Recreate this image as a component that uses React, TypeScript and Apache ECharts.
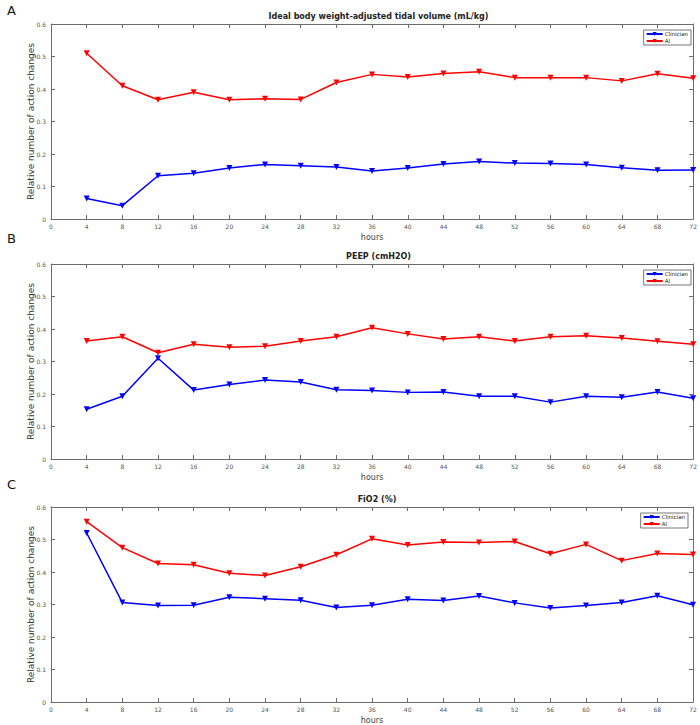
import React, { useEffect, useRef } from "react";
import * as echarts from "echarts";

const hours = [4, 8, 12, 16, 20, 24, 28, 32, 36, 40, 44, 48, 52, 56, 60, 64, 68, 72];
const seriesNames = ["Clinician", "AI"];
const panelLetters = ["A", "B", "C"];
const panelTitles = [
  "Ideal body weight-adjusted tidal volume (mL/kg)",
  "PEEP (cmH2O)",
  "FiO2 (%)",
];

const tidalClinician = [0.063, 0.041, 0.133, 0.141, 0.157, 0.168, 0.164, 0.16, 0.148, 0.157, 0.169, 0.177, 0.172, 0.171, 0.168, 0.158, 0.15, 0.151];
const tidalAI = [0.51, 0.41, 0.367, 0.39, 0.367, 0.37, 0.368, 0.42, 0.445, 0.437, 0.448, 0.453, 0.435, 0.435, 0.435, 0.425, 0.447, 0.433];

const peepClinician = [0.153, 0.193, 0.31, 0.212, 0.229, 0.243, 0.237, 0.213, 0.211, 0.205, 0.206, 0.193, 0.193, 0.175, 0.193, 0.19, 0.206, 0.187];
const peepAI = [0.363, 0.376, 0.327, 0.353, 0.344, 0.347, 0.363, 0.376, 0.404, 0.385, 0.369, 0.376, 0.363, 0.376, 0.379, 0.372, 0.362, 0.353];

const fio2Clinician = [0.52, 0.306, 0.297, 0.298, 0.322, 0.318, 0.313, 0.291, 0.298, 0.316, 0.312, 0.326, 0.305, 0.289, 0.297, 0.306, 0.327, 0.299];
const fio2AI = [0.555, 0.475, 0.426, 0.422, 0.396, 0.389, 0.416, 0.453, 0.502, 0.483, 0.492, 0.491, 0.494, 0.456, 0.485, 0.435, 0.457, 0.454];

const panelData = [
  [tidalClinician, tidalAI],
  [peepClinician, peepAI],
  [fio2Clinician, fio2AI],
];

const colors = ["#0000ff", "#ff0000"];
const layout = [
  { top: 24, height: 195, left: 51, right: 4, letterTop: 4 },
  { top: 264, height: 195, left: 51, right: 4, letterTop: 232 },
  { top: 507, height: 197, left: 51, right: 7, letterTop: 478 },
];

const FONT = "'DejaVu Sans', sans-serif";
const AXIS_COLOR = "#6b6b6b";

export default function App() {
  const ref = useRef<HTMLDivElement>(null);
  useEffect(() => {
    if (!ref.current) return;
    const chart = echarts.init(ref.current, undefined, { renderer: "svg" });
    const grid: any[] = [];
    const xAxis: any[] = [];
    const yAxis: any[] = [];
    const series: any[] = [];
    const title: any[] = [];
    const legend: any[] = [];
    const graphic: any[] = [];

    layout.forEach((g, i) => {
      grid.push({ left: g.left, right: g.right, top: g.top, height: g.height, show: false });
      const axisLine = { show: true, onZero: false, lineStyle: { color: AXIS_COLOR, width: 1 } };
      const tick = { show: true, inside: true, length: 4, lineStyle: { color: AXIS_COLOR } };
      xAxis.push({
        type: "value", gridIndex: i, min: 0, max: 72, interval: 4, position: "bottom",
        axisLine, axisTick: tick, splitLine: { show: false },
        axisLabel: { fontSize: 6, color: "#555", fontFamily: FONT, margin: 4 },
        name: "hours", nameLocation: "middle", nameGap: 14, nameMoveOverlap: false,
        nameTextStyle: { fontSize: 8, color: "#444", fontFamily: FONT },
      });
      xAxis.push({
        type: "value", gridIndex: i, min: 0, max: 72, interval: 4, position: "top",
        axisLine, axisTick: tick, splitLine: { show: false }, axisLabel: { show: false },
      });
      yAxis.push({
        type: "value", gridIndex: i, min: 0, max: 0.6, interval: 0.1, position: "left",
        axisLine, axisTick: tick, splitLine: { show: false },
        axisLabel: { fontSize: 6, color: "#555", fontFamily: FONT, margin: 5 },
        name: "Relative number of action changes", nameLocation: "middle", nameGap: 16,
        nameMoveOverlap: false,
        nameTextStyle: { fontSize: 9, color: "#333", fontFamily: FONT },
      });
      yAxis.push({
        type: "value", gridIndex: i, min: 0, max: 0.6, interval: 0.1, position: "right",
        axisLine, axisTick: tick, splitLine: { show: false }, axisLabel: { show: false },
      });
      panelData[i].forEach((vals, s) => {
        series.push({
          type: "line", name: seriesNames[s], xAxisIndex: i * 2, yAxisIndex: i * 2,
          data: hours.map((h, k) => [h, vals[k]]),
          symbol: "triangle", symbolRotate: 180, symbolSize: 6,
          lineStyle: { color: colors[s], width: 1.5 },
          itemStyle: { color: colors[s] },
          showSymbol: true,
        });
      });
      const center = g.left + (700 - g.left - g.right) / 2;
      title.push({
        text: panelTitles[i], left: center, top: g.top - 17, textAlign: "center",
        textStyle: { fontSize: 8, fontWeight: "bold", color: "#222", fontFamily: FONT },
      });
      graphic.push({
        type: "text", left: 7, top: g.letterTop,
        style: { text: panelLetters[i], fontSize: 13, fill: "#111", fontFamily: FONT },
      });
      legend.push({
        data: seriesNames, orient: "vertical", right: g.right + 5, top: g.top + 6,
        itemWidth: 16, itemHeight: 5, itemGap: 1, padding: [1, 3, 1, 2],
        borderColor: "#555", borderWidth: 0.8, backgroundColor: "#fff",
        textStyle: { fontSize: 5.5, color: "#222", fontFamily: FONT, padding: [0, 0, 0, -3] },
        selectedMode: false,
      });
    });

    chart.setOption({
      animation: false,
      backgroundColor: "#fff",
      grid, xAxis, yAxis, series, title, legend, graphic,
    });
    return () => chart.dispose();
  }, []);
  return (
    <div
      ref={ref}
      style={{ position: "fixed", left: 0, top: 0, width: 700, height: 725 }}
    />
  );
}
